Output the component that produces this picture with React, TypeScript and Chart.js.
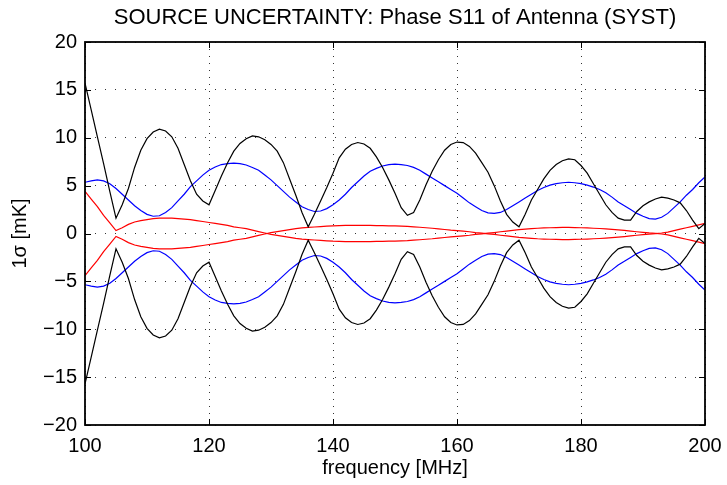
import React, { useEffect, useRef } from 'react';
import { Chart, registerables } from 'chart.js';

Chart.register(...registerables);

const FONT = "'Liberation Sans', Arial, Helvetica, sans-serif";

const chartTitle = 'SOURCE UNCERTAINTY: Phase S11 of Antenna (SYST)';
const xTitle = 'frequency [MHz]';
const yTitle = '1\u03c3 [mK]';

const xTicks = [100, 120, 140, 160, 180, 200];
const yTicks = [-20, -15, -10, -5, 0, 5, 10, 15, 20];

const frequency = [
  100, 101, 102, 103, 104, 105, 106, 107, 108, 109,
  110, 111, 112, 113, 114, 115, 116, 117, 118, 119,
  120, 121, 122, 123, 124, 125, 126, 127, 128, 129,
  130, 131, 132, 133, 134, 135, 136, 137, 138, 139,
  140, 141, 142, 143, 144, 145, 146, 147, 148, 149,
  150, 151, 152, 153, 154, 155, 156, 157, 158, 159,
  160, 161, 162, 163, 164, 165, 166, 167, 168, 169,
  170, 171, 172, 173, 174, 175, 176, 177, 178, 179,
  180, 181, 182, 183, 184, 185, 186, 187, 188, 189,
  190, 191, 192, 193, 194, 195, 196, 197, 198, 199,
  200,
];

const blackUpper = [
  15.7, 12.9, 10.1, 7.3, 4.4, 1.6, 3.0, 4.7, 6.9, 8.7,
  9.9, 10.6, 10.9, 10.7, 10.1, 8.9, 7.2, 5.5, 4.1, 3.4,
  3.0, 4.5, 6.0, 7.4, 8.6, 9.4, 9.9, 10.2, 10.1, 9.8,
  9.3, 8.6, 7.4, 5.7, 4.0, 2.2, 0.7, 2.0, 3.4, 4.8,
  6.3, 7.9, 8.8, 9.3, 9.5, 9.35, 8.9, 8.0, 6.9, 5.6,
  4.2, 2.7, 1.9, 2.2, 3.5, 5.1, 6.5, 7.7, 8.7, 9.3,
  9.55, 9.5, 9.1, 8.4, 7.4, 6.4, 5.0, 3.4, 2.0, 1.2,
  0.7, 2.0, 3.5, 4.6, 5.7, 6.6, 7.2, 7.6, 7.8, 7.7,
  7.1, 6.3, 5.2, 4.1, 3.0, 2.2, 1.6, 1.4, 1.4, 2.3,
  2.9, 3.3, 3.6, 3.8, 3.7, 3.5, 3.2, 2.4, 1.4, 0.5,
  1.05,
];

const blackLower = [
  -15.7, -12.9, -10.1, -7.3, -4.4, -1.6, -3.0, -4.7, -6.9, -8.7,
  -9.9, -10.6, -10.9, -10.7, -10.1, -8.9, -7.2, -5.5, -4.1, -3.4,
  -3.0, -4.5, -6.0, -7.4, -8.6, -9.4, -9.9, -10.2, -10.1, -9.8,
  -9.3, -8.6, -7.4, -5.7, -4.0, -2.2, -0.7, -2.0, -3.4, -4.8,
  -6.3, -7.9, -8.8, -9.3, -9.5, -9.35, -8.9, -8.0, -6.9, -5.6,
  -4.2, -2.7, -1.9, -2.2, -3.5, -5.1, -6.5, -7.7, -8.7, -9.3,
  -9.55, -9.5, -9.1, -8.4, -7.4, -6.4, -5.0, -3.4, -2.0, -1.2,
  -0.7, -2.0, -3.5, -4.6, -5.7, -6.6, -7.2, -7.6, -7.8, -7.7,
  -7.1, -6.3, -5.2, -4.1, -3.0, -2.2, -1.6, -1.4, -1.4, -2.3,
  -2.9, -3.3, -3.6, -3.8, -3.7, -3.5, -3.2, -2.4, -1.4, -0.5,
  -1.05,
];

const blueUpper = [
  5.35, 5.5, 5.6, 5.5, 5.2, 4.7, 4.1, 3.5, 2.9, 2.4,
  2.0, 1.8, 1.85, 2.2, 2.7, 3.4, 4.1, 4.9, 5.5, 6.1,
  6.6, 6.95, 7.2, 7.3, 7.35, 7.3, 7.15, 6.9, 6.6, 6.1,
  5.6, 5.0, 4.4, 3.8, 3.3, 2.8, 2.5, 2.3, 2.35, 2.6,
  3.0, 3.5, 4.1, 4.8, 5.4, 6.0, 6.5, 6.8, 7.05, 7.2,
  7.25, 7.2, 7.1, 6.9, 6.6, 6.2, 5.8, 5.4, 5.0, 4.6,
  4.2, 3.7, 3.2, 2.8, 2.4, 2.15, 2.1, 2.2, 2.5, 2.9,
  3.3, 3.7, 4.1, 4.5, 4.8, 5.05, 5.2, 5.3, 5.35, 5.3,
  5.2, 5.05, 4.85, 4.6, 4.25, 3.8, 3.3, 2.9, 2.5, 2.1,
  1.8, 1.55, 1.5, 1.7, 2.1, 2.7, 3.3, 4.0, 4.6, 5.3,
  5.9,
];

const blueLower = [
  -5.35, -5.5, -5.6, -5.5, -5.2, -4.7, -4.1, -3.5, -2.9, -2.4,
  -2.0, -1.8, -1.85, -2.2, -2.7, -3.4, -4.1, -4.9, -5.5, -6.1,
  -6.6, -6.95, -7.2, -7.3, -7.35, -7.3, -7.15, -6.9, -6.6, -6.1,
  -5.6, -5.0, -4.4, -3.8, -3.3, -2.8, -2.5, -2.3, -2.35, -2.6,
  -3.0, -3.5, -4.1, -4.8, -5.4, -6.0, -6.5, -6.8, -7.05, -7.2,
  -7.25, -7.2, -7.1, -6.9, -6.6, -6.2, -5.8, -5.4, -5.0, -4.6,
  -4.2, -3.7, -3.2, -2.8, -2.4, -2.15, -2.1, -2.2, -2.5, -2.9,
  -3.3, -3.7, -4.1, -4.5, -4.8, -5.05, -5.2, -5.3, -5.35, -5.3,
  -5.2, -5.05, -4.85, -4.6, -4.25, -3.8, -3.3, -2.9, -2.5, -2.1,
  -1.8, -1.55, -1.5, -1.7, -2.1, -2.7, -3.3, -4.0, -4.6, -5.3,
  -5.9,
];

const redA = [
  4.4, 3.6, 2.8, 1.9, 1.1, 0.3, 0.6, 0.95, 1.2, 1.35,
  1.45, 1.55, 1.6, 1.6, 1.6, 1.55, 1.5, 1.45, 1.35, 1.25,
  1.15, 1.05, 0.95, 0.85, 0.7, 0.6, 0.5, 0.35, 0.2, 0.05,
  -0.1, -0.2, -0.3, -0.4, -0.5, -0.58, -0.63, -0.68, -0.72, -0.76,
  -0.8, -0.82, -0.84, -0.85, -0.85, -0.85, -0.84, -0.83, -0.82, -0.8,
  -0.8, -0.78, -0.75, -0.7, -0.65, -0.6, -0.55, -0.48, -0.42, -0.35,
  -0.3, -0.24, -0.18, -0.1, -0.04, 0.03, 0.1, 0.18, 0.25, 0.32,
  0.4, 0.45, 0.5, 0.55, 0.58, 0.6, 0.62, 0.63, 0.63, 0.62,
  0.6, 0.58, 0.55, 0.52, 0.48, 0.43, 0.38, 0.32, 0.25, 0.18,
  0.12, 0.06, 0.02, -0.05, -0.15, -0.3, -0.45, -0.6, -0.75, -0.9,
  -1.05,
];

const redB = [
  -4.4, -3.6, -2.8, -1.9, -1.1, -0.3, -0.6, -0.95, -1.2, -1.35,
  -1.45, -1.55, -1.6, -1.6, -1.6, -1.55, -1.5, -1.45, -1.35, -1.25,
  -1.15, -1.05, -0.95, -0.85, -0.7, -0.6, -0.5, -0.35, -0.2, -0.05,
  0.1, 0.2, 0.3, 0.4, 0.5, 0.58, 0.63, 0.68, 0.72, 0.76,
  0.8, 0.82, 0.84, 0.85, 0.85, 0.85, 0.84, 0.83, 0.82, 0.8,
  0.8, 0.78, 0.75, 0.7, 0.65, 0.6, 0.55, 0.48, 0.42, 0.35,
  0.3, 0.24, 0.18, 0.1, 0.04, -0.03, -0.1, -0.18, -0.25, -0.32,
  -0.4, -0.45, -0.5, -0.55, -0.58, -0.6, -0.62, -0.63, -0.63, -0.62,
  -0.6, -0.58, -0.55, -0.52, -0.48, -0.43, -0.38, -0.32, -0.25, -0.18,
  -0.12, -0.06, -0.02, 0.05, 0.15, 0.3, 0.45, 0.6, 0.75, 0.9,
  1.05,
];

const seriesList = [
  { name: 'black+', values: blackUpper, color: '#000000' },
  { name: 'black-', values: blackLower, color: '#000000' },
  { name: 'blue+', values: blueUpper, color: '#0000ff' },
  { name: 'blue-', values: blueLower, color: '#0000ff' },
  { name: 'red+', values: redA, color: '#ff0000' },
  { name: 'red-', values: redB, color: '#ff0000' },
];

const fmt = (v: number) => (v < 0 ? '\u2212' + Math.abs(v) : String(v));

const boxPlugin = {
  id: 'matlabBox',
  afterDatasetsDraw(chart: any) {
    const { ctx, chartArea } = chart;
    const { left, right, top, bottom } = chartArea;
    const xs = chart.scales.x;
    const ys = chart.scales.y;
    ctx.save();
    ctx.strokeStyle = '#000';
    ctx.lineWidth = 1;
    ctx.setLineDash([]);
    const tl = 6;
    ctx.beginPath();
    xTicks.forEach((t) => {
      const px = Math.round(xs.getPixelForValue(t)) + 0.5;
      ctx.moveTo(px, bottom);
      ctx.lineTo(px, bottom - tl);
      ctx.moveTo(px, top);
      ctx.lineTo(px, top + tl);
    });
    yTicks.forEach((t) => {
      const py = Math.round(ys.getPixelForValue(t)) + 0.5;
      ctx.moveTo(left, py);
      ctx.lineTo(left + tl, py);
      ctx.moveTo(right, py);
      ctx.lineTo(right - tl, py);
    });
    ctx.stroke();
    ctx.lineWidth = 1.8;
    ctx.strokeRect(left, top, right - left, bottom - top);
    // title centred over the plot box, as MATLAB does
    ctx.fillStyle = '#000';
    ctx.font = `22px ${FONT}`;
    ctx.textAlign = 'center';
    ctx.textBaseline = 'middle';
    ctx.fillText(chartTitle, (left + right) / 2, 18);
    ctx.restore();
  },
};

export default function App() {
  const ref = useRef<HTMLCanvasElement | null>(null);

  useEffect(() => {
    if (!ref.current) return;
    const chart = new Chart(ref.current, {
      type: 'line',
      data: {
        datasets: seriesList.map((s) => ({
          label: s.name,
          data: frequency.map((f, i) => ({ x: f, y: s.values[i] })),
          borderColor: s.color,
          backgroundColor: s.color,
          borderWidth: 1.2,
          pointRadius: 0,
          tension: 0,
          fill: false,
        })),
      },
      options: {
        animation: false,
        responsive: false,
        devicePixelRatio: 1,
        layout: { padding: { left: 0, right: 22, top: 42, bottom: 0 } },
        plugins: {
          legend: { display: false },
          tooltip: { enabled: false },
          title: { display: false },
        },
        scales: {
          x: {
            type: 'linear',
            min: 100,
            max: 200,
            afterFit: (s: any) => {
              s.height = 60;
              s.paddingLeft = 0;
              s.paddingRight = 0;
            },
            afterBuildTicks: (s: any) => {
              s.ticks = xTicks.map((v) => ({ value: v }));
            },
            ticks: {
              color: '#000',
              font: { family: FONT, size: 20 },
              padding: 9,
              maxRotation: 0,
              autoSkip: false,
            },
            grid: {
              color: 'rgba(0,0,0,0.8)',
              lineWidth: 1,
              drawTicks: false,
            },
            border: { display: false, dash: [1, 6] },
            title: {
              display: true,
              text: xTitle,
              color: '#000',
              font: { family: FONT, size: 20, lineHeight: 1.2 },
              padding: { top: 0, bottom: 5 },
            },
          },
          y: {
            type: 'linear',
            min: -20,
            max: 20,
            afterFit: (s: any) => {
              s.width = 85;
              s.paddingTop = 0;
              s.paddingBottom = 0;
            },
            afterBuildTicks: (s: any) => {
              s.ticks = yTicks.map((v) => ({ value: v }));
            },
            ticks: {
              color: '#000',
              font: { family: FONT, size: 20 },
              padding: 8,
              autoSkip: false,
              callback: (v: any) => fmt(Number(v)),
            },
            grid: {
              color: 'rgba(0,0,0,0.8)',
              lineWidth: 1,
              drawTicks: false,
            },
            border: { display: false, dash: [1, 9] },
            title: {
              display: true,
              text: yTitle,
              color: '#000',
              font: { family: FONT, size: 20, lineHeight: 1.2 },
              padding: { top: 8, bottom: 0 },
            },
          },
        },
      } as any,
      plugins: [boxPlugin],
    });
    return () => chart.destroy();
  }, []);

  return (
    <div
      style={{
        position: 'fixed',
        left: 0,
        top: 0,
        width: 727,
        height: 485,
        background: '#fff',
      }}
    >
      <canvas ref={ref} width={727} height={485} style={{ display: 'block' }} />
    </div>
  );
}
